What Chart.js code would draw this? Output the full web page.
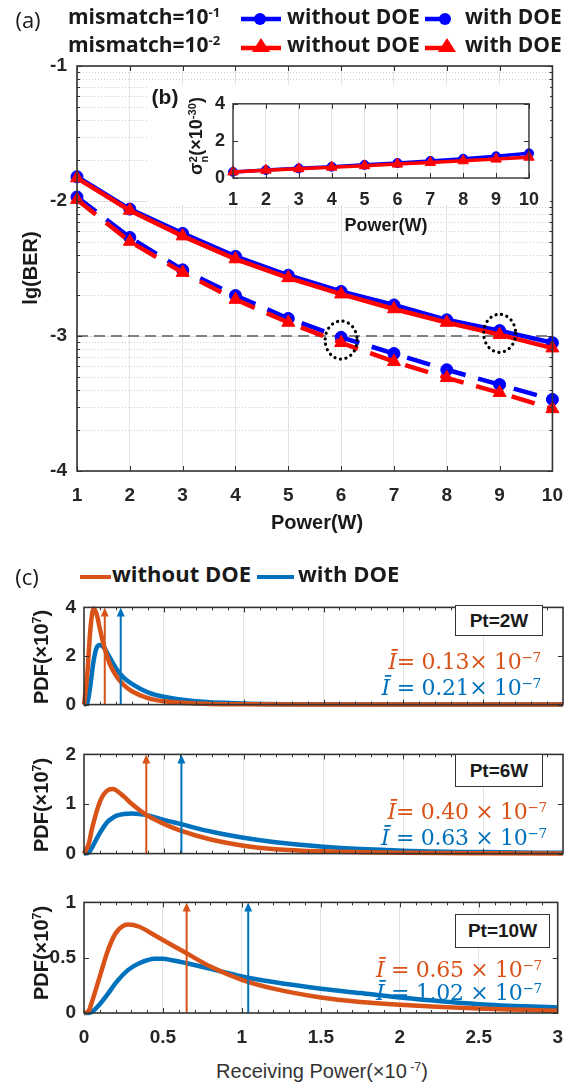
<!DOCTYPE html>
<html>
<head>
<meta charset="utf-8">
<script src="https://cdn.jsdelivr.net/npm/chart.js@4.4.1/dist/chart.umd.min.js"></script>
<style>
  body { margin: 0; background: #fff; }
  #page { position: relative; width: 576px; height: 1091px; overflow: hidden; background: #fff;
          font-family: "Liberation Sans", Arial, sans-serif; color: #1a1a1a; }
  canvas { position: absolute; }
  .t { position: absolute; white-space: nowrap; line-height: 1; z-index: 5; }
  .c { transform: translate(-50%, -50%); }
  .rot { transform: translate(-50%, -50%) rotate(-90deg); }
  .b { font-weight: bold; }
  .leg { font-family: "Open Sans", sans-serif; font-weight: 700; font-size: 21px; }
  sup { font-size: 0.62em; vertical-align: 0.55em; line-height: 0; }
  .ss { display: inline-flex; flex-direction: column; font-size: 0.62em; line-height: 0.95; vertical-align: 0.45em; }
  .box { position: absolute; z-index: 5; border: 1.5px solid #333; background: #fff; font-weight: bold;
         font-size: 19px; display: flex; align-items: center; justify-content: center; box-sizing: border-box; }
  .mean { position: absolute; z-index: 5; font-family: "DejaVu Serif", "Liberation Serif", serif; font-size: 22px;
          white-space: nowrap; line-height: 1; transform: translate(-100%, -50%); letter-spacing: -0.3px; }
  .ib { font-style: italic; }
</style>
</head>
<body>
<div id="page">
  <!-- panel (a) legend -->
  <div class="t c" style="left:28px;top:19px;font-family:'Open Sans';font-size:22px;">(a)</div>
  <div class="t leg" style="left:68px;top:6px;">mismatch=10<sup>-1</sup></div>
  <div class="t leg" style="left:68px;top:34px;">mismatch=10<sup>-2</sup></div>
  <svg class="t" style="left:240px;top:8px;" width="42" height="22"><line x1="1" y1="11" x2="41" y2="11" stroke="#0000ff" stroke-width="4.5"/><circle cx="20" cy="11" r="6" fill="#0000ff"/></svg>
  <div class="t leg" style="left:287px;top:6px;">without DOE</div>
  <svg class="t" style="left:424px;top:8px;" width="28" height="22"><line x1="1" y1="11" x2="21" y2="11" stroke="#0000ff" stroke-width="4.5"/><circle cx="21" cy="11" r="6" fill="#0000ff"/></svg>
  <div class="t leg" style="left:465px;top:6px;">with DOE</div>
  <svg class="t" style="left:240px;top:33px;" width="42" height="24"><line x1="1" y1="15" x2="41" y2="15" stroke="#ff0000" stroke-width="4.5"/><polygon points="21,5 30,19 12,19" fill="#ff0000"/></svg>
  <div class="t leg" style="left:287px;top:34px;">without DOE</div>
  <svg class="t" style="left:424px;top:33px;" width="34" height="24"><line x1="1" y1="15" x2="23" y2="15" stroke="#ff0000" stroke-width="4.5"/><polygon points="23,5 32,19 14,19" fill="#ff0000"/></svg>
  <div class="t leg" style="left:465px;top:34px;">with DOE</div>

  <div class="t rot b" style="left:30px;top:268px;font-size:20px;">lg(BER)</div>
  <div class="t c b" style="left:317px;top:522px;font-size:20px;">Power(W)</div>

  <!-- inset (b) -->
  <div class="t c b" style="left:165px;top:96px;font-size:21px;">(b)</div>
  <div class="t rot b" style="left:198px;top:136px;font-size:18px;">σ<span class="ss"><span>2</span><span>n</span></span>(×10<sup>-30</sup>)</div>
  <div class="t c b" style="left:386px;top:225px;font-size:18px;">Power(W)</div>

  <!-- panel (c) legend -->
  <div class="t c" style="left:27px;top:576px;font-family:'Open Sans';font-size:22px;">(c)</div>
  <svg class="t" style="left:80px;top:567px;" width="32" height="20"><line x1="0" y1="10" x2="31" y2="10" stroke="#D95319" stroke-width="4"/></svg>
  <div class="t leg" style="left:112px;top:562px;font-size:22px;">without DOE</div>
  <svg class="t" style="left:257px;top:567px;" width="38" height="20"><line x1="0" y1="10" x2="37" y2="10" stroke="#0072BD" stroke-width="4"/></svg>
  <div class="t leg" style="left:298px;top:562px;font-size:22px;">with DOE</div>

  <div class="t rot b" style="left:41px;top:657px;font-size:20px;">PDF(×10<sup>7</sup>)</div>
  <div class="t rot b" style="left:41px;top:805px;font-size:20px;">PDF(×10<sup>7</sup>)</div>
  <div class="t rot b" style="left:41px;top:953px;font-size:20px;">PDF(×10<sup>7</sup>)</div>
  <div class="t c" style="left:322px;top:1071px;font-size:20px;color:#333;">Receiving Power(×10<sup> -7</sup>)</div>

  <div class="box" style="left:455px;top:605px;width:88px;height:31px;">Pt=2W</div>
  <div class="mean" style="left:541px;top:662px;color:#D95319;"><span class="ib">Ī</span>= 0.13× 10<sup>−7</sup></div>
  <div class="mean" style="left:541px;top:688px;color:#0072BD;"><span class="ib">Ī</span> = 0.21× 10<sup>−7</sup></div>

  <div class="box" style="left:455px;top:754px;width:88px;height:33px;">Pt=6W</div>
  <div class="mean" style="left:547px;top:812px;color:#D95319;"><span class="ib">Ī</span>= 0.40 × 10<sup>−7</sup></div>
  <div class="mean" style="left:547px;top:838px;color:#0072BD;"><span class="ib">Ī</span> = 0.63 × 10<sup>−7</sup></div>

  <div class="box" style="left:455px;top:914px;width:95px;height:34px;">Pt=10W</div>
  <div class="mean" style="left:542px;top:970px;color:#D95319;"><span class="ib">Ī</span> = 0.65 × 10<sup>−7</sup></div>
  <div class="mean" style="left:542px;top:993px;color:#0072BD;"><span class="ib">Ī</span> = 1.02 × 10<sup>−7</sup></div>
</div>

<script>
// ---- (a) lg(BER) vs transmit power ----
const powerW = [1, 2, 3, 4, 5, 6, 7, 8, 9, 10];
const berMis1NoDoe = [-1.82, -2.06, -2.24, -2.41, -2.55, -2.67, -2.77, -2.88, -2.96, -3.05];
const berMis2NoDoe = [-1.83, -2.07, -2.26, -2.43, -2.57, -2.69, -2.80, -2.90, -2.99, -3.09];
const berMis1Doe   = [-1.97, -2.27, -2.51, -2.70, -2.87, -3.01, -3.13, -3.25, -3.36, -3.47];
const berMis2Doe   = [-1.99, -2.30, -2.53, -2.73, -2.90, -3.05, -3.19, -3.31, -3.42, -3.54];
const berTicks = [-4, -3, -2, -1];
const berThreshold = -3;
const circledPoints = [[6, -3.03], [9, -2.98]];

// ---- (b) noise variance inset ----
const sigmaMis1 = [0.33, 0.43, 0.52, 0.61, 0.71, 0.81, 0.92, 1.04, 1.17, 1.33];
const sigmaMis2 = [0.33, 0.42, 0.50, 0.58, 0.66, 0.75, 0.84, 0.93, 1.02, 1.12];

// ---- (c) PDFs of receiving power ----
const pdf2wX      = [0, 0.02, 0.04, 0.06, 0.08, 0.1, 0.13, 0.16, 0.2, 0.25, 0.3, 0.4, 0.5, 0.7, 1.0, 1.5, 2, 3];
const pdf2wNoDoe  = [0, 1.2, 3.1, 3.95, 3.7, 3.1, 2.3, 1.7, 1.2, 0.8, 0.55, 0.27, 0.14, 0.05, 0.015, 0.003, 0, 0];
const pdf2wDoe    = [0, 0.05, 0.8, 1.8, 2.35, 2.45, 2.3, 1.95, 1.5, 1.1, 0.85, 0.5, 0.32, 0.14, 0.05, 0.012, 0.003, 0];
const pdf6wX      = [0, 0.03, 0.05, 0.1, 0.15, 0.18, 0.2, 0.25, 0.3, 0.4, 0.5, 0.6, 0.8, 1.0, 1.2, 1.5, 2, 2.5, 3];
const pdf6wNoDoe  = [0, 0.2, 0.5, 1.05, 1.28, 1.3, 1.28, 1.15, 1.0, 0.76, 0.6, 0.47, 0.28, 0.16, 0.09, 0.045, 0.015, 0.005, 0.002];
const pdf6wDoe    = [0, 0.02, 0.12, 0.42, 0.65, 0.72, 0.76, 0.8, 0.81, 0.77, 0.68, 0.6, 0.44, 0.32, 0.23, 0.14, 0.06, 0.03, 0.015];
const pdf10wX     = [0, 0.03, 0.05, 0.1, 0.15, 0.2, 0.28, 0.35, 0.45, 0.5, 0.55, 0.65, 0.8, 1.0, 1.2, 1.5, 1.75, 2, 2.5, 3];
const pdf10wNoDoe = [0, 0.02, 0.1, 0.33, 0.56, 0.72, 0.8, 0.78, 0.7, 0.66, 0.62, 0.54, 0.42, 0.3, 0.22, 0.14, 0.1, 0.075, 0.04, 0.02];
const pdf10wDoe   = [0, 0, 0.01, 0.08, 0.17, 0.27, 0.39, 0.45, 0.49, 0.49, 0.48, 0.45, 0.4, 0.33, 0.28, 0.22, 0.18, 0.14, 0.08, 0.05];
const meanNoDoe = [0.13, 0.39, 0.65];
const meanDoe   = [0.23, 0.61, 1.04];

const BLUE = '#0000ff', RED = '#ff0000', ORANGE = '#D95319', MBLUE = '#0072BD';

Chart.defaults.font.family = '"Liberation Sans", Arial, sans-serif';
Chart.defaults.color = '#262626';
Chart.defaults.animation = false;

function makeCanvas(left, top, w, h, z) {
  const c = document.createElement('canvas');
  c.width = w; c.height = h;
  c.style.left = left + 'px'; c.style.top = top + 'px';
  c.style.width = w + 'px'; c.style.height = h + 'px';
  c.style.zIndex = z;
  document.querySelector('#page').appendChild(c);
  return c.getContext('2d');
}

// box + inward tick marks like a matlab axes
const framePlugin = {
  id: 'frame',
  afterDraw(chart, args, o) {
    const { ctx, chartArea: a, scales } = chart;
    ctx.save();
    ctx.strokeStyle = '#333';
    ctx.lineWidth = 1;
    const mark = (vals, len, axis) => (vals || []).forEach(v => {
      ctx.beginPath();
      if (axis === 'x') {
        const p = Math.round(scales.x.getPixelForValue(v)) + 0.5;
        ctx.moveTo(p, a.bottom); ctx.lineTo(p, a.bottom - len);
        ctx.moveTo(p, a.top); ctx.lineTo(p, a.top + len);
      } else {
        const p = Math.round(scales.y.getPixelForValue(v)) + 0.5;
        ctx.moveTo(a.left, p); ctx.lineTo(a.left + len, p);
        ctx.moveTo(a.right, p); ctx.lineTo(a.right - len, p);
      }
      ctx.stroke();
    });
    mark(o.xMajor, 5, 'x');
    mark(o.xMinor, 3, 'x');
    mark(o.yMajor, 5, 'y');
    mark(o.yMinor, 3, 'y');
    ctx.lineWidth = o.width || 1.6;
    ctx.strokeRect(a.left, a.top, a.width, a.height);
    ctx.restore();
  }
};

// (a): dotted minor grid, dashed threshold, dotted circles
const berPlugin = {
  id: 'berExtras',
  beforeDatasetsDraw(chart, args, o) {
    const { ctx, chartArea: a, scales: { y } } = chart;
    ctx.save();
    ctx.strokeStyle = '#cfcfcf';
    ctx.lineWidth = 1;
    ctx.setLineDash([1, 2]);
    o.minor.forEach(v => {
      const p = Math.round(y.getPixelForValue(v)) + 0.5;
      ctx.beginPath(); ctx.moveTo(a.left, p); ctx.lineTo(a.right, p); ctx.stroke();
    });
    ctx.strokeStyle = '#808080';
    ctx.lineWidth = 2;
    ctx.setLineDash([11, 6]);
    const t = y.getPixelForValue(o.threshold);
    ctx.beginPath(); ctx.moveTo(a.left, t); ctx.lineTo(a.right, t); ctx.stroke();
    ctx.restore();
  },
  afterDatasetsDraw(chart, args, o) {
    const { ctx, scales: { x, y } } = chart;
    ctx.save();
    ctx.strokeStyle = '#000';
    ctx.lineWidth = 3.2;
    ctx.lineCap = 'round';
    ctx.setLineDash([0.1, 5.5]);
    o.circles.forEach(([px, py]) => {
      ctx.beginPath();
      ctx.ellipse(x.getPixelForValue(px), y.getPixelForValue(py), 16, 19, 0, 0, Math.PI * 2);
      ctx.stroke();
    });
    ctx.restore();
  }
};

const whiteBg = {
  id: 'whiteBg',
  beforeDraw(chart) {
    const { ctx, width, height } = chart;
    ctx.save(); ctx.fillStyle = '#fff'; ctx.fillRect(0, 0, width, height); ctx.restore();
  }
};

// mean value arrows in (c)
const arrowPlugin = {
  id: 'arrows',
  afterDatasetsDraw(chart, args, o) {
    const { ctx, chartArea: a, scales: { x, y } } = chart;
    ctx.save();
    o.list.forEach(([mx, color]) => {
      const px = x.getPixelForValue(mx);
      ctx.strokeStyle = color; ctx.fillStyle = color; ctx.lineWidth = 2;
      ctx.beginPath(); ctx.moveTo(px, y.getPixelForValue(0)); ctx.lineTo(px, a.top + 6); ctx.stroke();
      ctx.beginPath(); ctx.moveTo(px, a.top); ctx.lineTo(px - 4, a.top + 9); ctx.lineTo(px + 4, a.top + 9); ctx.closePath(); ctx.fill();
    });
    ctx.restore();
  }
};

function lineSet(xs, ys, color, width, marker, radius, dashed, order) {
  return {
    data: xs.map((v, i) => ({ x: v, y: ys[i] })),
    borderColor: color, backgroundColor: color,
    borderWidth: width, borderDash: dashed ? [24, 13] : [],
    pointStyle: marker || 'circle', pointRadius: marker ? radius : 0,
    pointBorderWidth: 1, pointBorderColor: color,
    cubicInterpolationMode: marker ? 'default' : 'monotone',
    clip: false, order: order || 0
  };
}

const tickFont = size => ({ size: size, weight: 'bold' });
const plainNum = v => String(+v.toFixed(2));

// ---------- chart (a) ----------
const berMinor = [];
berTicks.slice(1).forEach(top => {
  for (let k = 2; k <= 9; k++) berMinor.push(top - 1 + Math.log10(k));
});

new Chart(makeCanvas(0, 0, 576, 545, 1), {
  type: 'line',
  data: {
    datasets: [
      lineSet(powerW, berMis1NoDoe, BLUE, 4.5, 'circle', 6, false, 2),
      lineSet(powerW, berMis2NoDoe, RED, 4.5, 'triangle', 7.5, false, 1),
      lineSet(powerW, berMis1Doe, BLUE, 4.5, 'circle', 6, true, 2),
      lineSet(powerW, berMis2Doe, RED, 4.5, 'triangle', 7.5, true, 1)
    ]
  },
  options: {
    responsive: false, devicePixelRatio: 1,
    layout: { padding: { top: 66, right: 19, left: 0, bottom: 0 } },
    plugins: {
      legend: { display: false }, tooltip: { enabled: false },
      frame: { xMajor: powerW, yMajor: berTicks, yMinor: berMinor },
      berExtras: { minor: berMinor, threshold: berThreshold, circles: circledPoints }
    },
    scales: {
      x: {
        type: 'linear', min: 1, max: 10,
        ticks: { stepSize: 1, padding: 13, font: tickFont(19) },
        grid: { color: '#e2e2e2', drawTicks: false }, border: { display: false },
        afterFit: s => { s.height = 74; }
      },
      y: {
        min: -4, max: -1,
        ticks: { stepSize: 1, padding: 10, font: tickFont(19) },
        grid: { color: '#dedede', drawTicks: false }, border: { display: false },
        afterFit: s => { s.width = 77; }
      }
    }
  },
  plugins: [berPlugin, framePlugin]
});

// ---------- inset (b) ----------
new Chart(makeCanvas(148, 85, 402, 120, 2), {
  type: 'line',
  data: {
    datasets: [
      lineSet(powerW, sigmaMis1, BLUE, 3.5, 'circle', 4.5, false, 2),
      lineSet(powerW, sigmaMis2, RED, 3.5, 'triangle', 6, false, 1)
    ]
  },
  options: {
    responsive: false, devicePixelRatio: 1,
    layout: { padding: { top: 11, right: 10, left: 0, bottom: 0 } },
    plugins: {
      legend: { display: false }, tooltip: { enabled: false },
      frame: { xMajor: powerW, yMajor: [0, 2, 4], width: 1.4 }
    },
    scales: {
      x: {
        type: 'linear', min: 1, max: 10,
        ticks: { stepSize: 1, padding: 11, font: tickFont(18) },
        grid: { color: '#e2e2e2', drawTicks: false }, border: { display: false },
        afterFit: s => { s.height = 27; }
      },
      y: {
        min: 0, max: 4,
        ticks: { stepSize: 2, padding: 8, font: tickFont(18) },
        grid: { display: false, drawTicks: false }, border: { display: false },
        afterFit: s => { s.width = 85; }
      }
    }
  },
  plugins: [whiteBg, framePlugin]
});

// ---------- panels (c) ----------
const xMajorC = [0.5, 1, 1.5, 2, 2.5];
const xMinorC = [];
for (let i = 1; i < 30; i++) if (i % 5) xMinorC.push(i / 10);

function pdfPanel(top, height, yMax, yStep, xs, noDoe, doe, k, showX) {
  const below = showX ? 40 : 8;
  const yMajor = [];
  for (let v = 0; v <= yMax + 1e-9; v += yStep) yMajor.push(v);
  new Chart(makeCanvas(0, top - 10, 576, height + 10 + below, 1), {
    type: 'line',
    data: {
      datasets: [
        lineSet(xs, noDoe, ORANGE, 4.5, null, 0, false, 0),
        lineSet(xs, doe, MBLUE, 4.5, null, 0, false, 1)
      ]
    },
    options: {
      responsive: false, devicePixelRatio: 1,
      layout: { padding: { top: 10, right: 13, left: 0, bottom: 0 } },
      plugins: {
        legend: { display: false }, tooltip: { enabled: false },
        frame: { xMajor: xMajorC, xMinor: xMinorC, yMajor: yMajor },
        arrows: { list: [[meanNoDoe[k], ORANGE], [meanDoe[k], MBLUE]] }
      },
      scales: {
        x: {
          type: 'linear', min: 0, max: 3,
          ticks: { stepSize: 0.5, padding: 13, font: tickFont(19), display: showX, callback: plainNum },
          grid: { color: c => (c.tick.value > 0 && c.tick.value < 3) ? '#e2e2e2' : 'rgba(0,0,0,0)', drawTicks: false },
          border: { display: false },
          afterFit: s => { s.height = below; }
        },
        y: {
          min: 0, max: yMax,
          ticks: { stepSize: yStep, padding: 8, font: tickFont(19), callback: plainNum },
          grid: { display: false, drawTicks: false }, border: { display: false },
          afterFit: s => { s.width = 84; }
        }
      }
    },
    plugins: [framePlugin, arrowPlugin]
  });
}

pdfPanel(598, 118, 4, 2, pdf2wX, pdf2wNoDoe, pdf2wDoe, 0, false);
pdfPanel(745, 120, 2, 1, pdf6wX, pdf6wNoDoe, pdf6wDoe, 1, false);
pdfPanel(893, 120, 1, 0.5, pdf10wX, pdf10wNoDoe, pdf10wDoe, 2, true);
</script>
</body>
</html>
